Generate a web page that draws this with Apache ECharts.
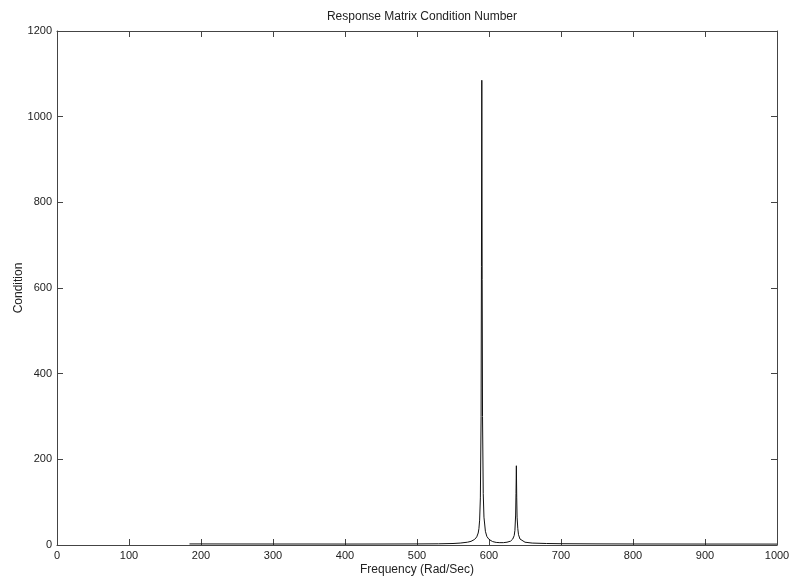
<!DOCTYPE html>
<html>
<head>
<meta charset="utf-8">
<script src="https://cdn.jsdelivr.net/npm/echarts@6/dist/echarts.min.js"></script>
<style>html,body{margin:0;padding:0;background:#fff}#c{width:790px;height:578px}</style>
</head>
<body>
<div id="c"></div>
<script>
var titleText = "Response Matrix Condition Number";
var xName = "Frequency (Rad/Sec)";
var yName = "Condition";
var xTicks = [0,100,200,300,400,500,600,700,800,900,1000];
var yTicks = [0,200,400,600,800,1000,1200];
var freq = [184,200,250,300,350,400,450,500,530,550,560,570,575,580,583,585,586,587,588,589,589.5,590,590.5,591,592,593,595,597,600,605,610,615,620,625,630,633,635,636,637,637.5,638,638.5,639,640,641,643,645,650,660,680,700,750,800,850,900,950,1000];
var cond = [2.5,2.5,2.4,2.3,2.3,2.2,2.3,2.5,2.8,3.5,4.5,6.5,8.5,13,19,28,38,58,110,300,650,1085,620,300,120,65,32,20,13,8,6,5.5,5.5,6.5,9,14,22,34,70,120,185,110,65,38,24,14,10,6.5,4.5,3.5,3,2.6,2.4,2.3,2.2,2.2,2.1];
var data = freq.map(function(f,i){return [f,cond[i]];});
var chart = echarts.init(document.getElementById('c'));
var font = 'Liberation Sans, Arial, sans-serif';
function fmt(v){return String(v);}
var axisCommon = {
  type:'value', splitLine:{show:false},
  axisLine:{show:true,onZero:false,lineStyle:{color:'#444',width:1}},
  axisTick:{show:true,inside:true,length:6,lineStyle:{color:'#444'}}
};
chart.setOption({
  animation:false,
  backgroundColor:'#fff',
  title:{text:titleText,left:417,top:6,textAlign:'center',textStyle:{fontFamily:font,fontSize:12,fontWeight:'normal',color:'#222'}},
  grid:{left:57,right:13,top:31,bottom:33,containLabel:false,outerBoundsMode:'none'},
  xAxis:[
    Object.assign({},axisCommon,{min:xTicks[0],max:xTicks[xTicks.length-1],interval:100,position:'bottom',
      name:xName,nameLocation:'middle',nameGap:19,nameMoveOverlap:false,nameTextStyle:{fontFamily:font,fontSize:12,color:'#222'},
      axisLabel:{color:'#222',fontFamily:font,fontSize:11,margin:5,formatter:fmt}}),
    Object.assign({},axisCommon,{min:xTicks[0],max:xTicks[xTicks.length-1],interval:100,position:'top',axisLabel:{show:false}})
  ],
  yAxis:[
    Object.assign({},axisCommon,{min:yTicks[0],max:yTicks[yTicks.length-1],interval:200,position:'left',
      name:yName,nameLocation:'middle',nameGap:32,nameMoveOverlap:false,nameTextStyle:{fontFamily:font,fontSize:12,color:'#222'},
      axisLabel:{color:'#222',fontFamily:font,fontSize:11,margin:5,formatter:fmt}}),
    Object.assign({},axisCommon,{min:yTicks[0],max:yTicks[yTicks.length-1],interval:200,position:'right',axisLabel:{show:false}})
  ],
  series:[{
    type:'line', data:data, xAxisIndex:0, yAxisIndex:0, showSymbol:false, symbol:'none',
    lineStyle:{color:'#111',width:1}, smooth:false
  }]
});
</script>
</body>
</html>
